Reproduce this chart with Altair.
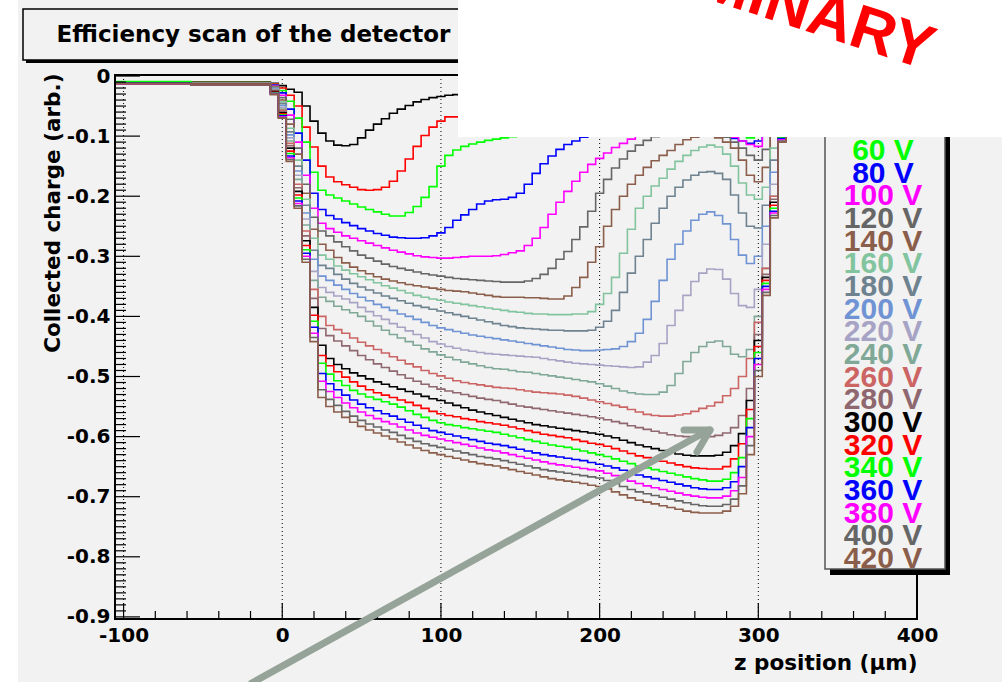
import altair as alt
import pandas as pd

# ---------------- data ----------------
# bin centres along z (µm)
Z_UM = [-105,
        -10, -5, 0, 5, 10, 15, 20, 25, 30,
        35, 40, 45, 50, 55, 60, 65, 70, 75, 80,
        85, 90, 95, 100, 105, 110, 115, 120, 125, 130,
        135, 140, 145, 150, 155, 160, 165, 170, 175, 180,
        185, 190, 195, 200, 205, 210, 215, 220, 225, 230,
        235, 240, 245, 250, 255, 260, 265, 270, 275, 280,
        285, 290, 295, 300, 305, 310, 315, 320, 325, 330,
        400]

Q20 = [-0.011,
       -0.010, -0.012, -0.016, -0.022, -0.027, -0.050, -0.075, -0.095, -0.108,
       -0.115, -0.116, -0.114, -0.103, -0.090, -0.080, -0.071, -0.062, -0.055, -0.049,
       -0.043, -0.039, -0.036, -0.034, -0.032, -0.031, -0.030, -0.029, -0.029, -0.028,
       -0.028, -0.027, -0.027, -0.026, -0.026, -0.025, -0.025, -0.025, -0.024, -0.024,
       -0.024, -0.024, -0.023, -0.023, -0.023, -0.023, -0.023, -0.023, -0.023, -0.024,
       -0.024, -0.025, -0.025, -0.026, -0.027, -0.028, -0.029, -0.031, -0.033, -0.036,
       -0.040, -0.045, -0.050, -0.052, -0.040, -0.022, -0.014, -0.012, -0.012, -0.011,
       -0.011]
Q40 = [-0.012,
       -0.011, -0.013, -0.020, -0.032, -0.050, -0.085, -0.118, -0.150, -0.168,
       -0.176, -0.181, -0.185, -0.189, -0.190, -0.189, -0.185, -0.175, -0.158, -0.138,
       -0.117, -0.099, -0.085, -0.075, -0.068, -0.068, -0.066, -0.064, -0.062, -0.060,
       -0.058, -0.057, -0.056, -0.055, -0.054, -0.053, -0.052, -0.051, -0.050, -0.050,
       -0.049, -0.049, -0.048, -0.048, -0.048, -0.048, -0.048, -0.048, -0.049, -0.050,
       -0.051, -0.052, -0.054, -0.056, -0.058, -0.060, -0.062, -0.065, -0.068, -0.072,
       -0.078, -0.085, -0.092, -0.090, -0.060, -0.028, -0.015, -0.012, -0.012, -0.011,
       -0.011]
Q60 = [-0.010,
       -0.011, -0.014, -0.024, -0.042, -0.070, -0.110, -0.160, -0.190, -0.198,
       -0.203, -0.208, -0.213, -0.218, -0.222, -0.226, -0.230, -0.233, -0.233, -0.227,
       -0.217, -0.202, -0.184, -0.150, -0.132, -0.123, -0.117, -0.113, -0.110, -0.107,
       -0.105, -0.103, -0.101, -0.099, -0.096, -0.093, -0.090, -0.087, -0.084, -0.081,
       -0.079, -0.077, -0.075, -0.073, -0.071, -0.070, -0.069, -0.068, -0.068, -0.068,
       -0.069, -0.070, -0.071, -0.072, -0.074, -0.076, -0.078, -0.081, -0.084, -0.088,
       -0.093, -0.098, -0.103, -0.100, -0.068, -0.030, -0.016, -0.012, -0.012, -0.011,
       -0.011]
Q80 = [-0.012,
       -0.012, -0.015, -0.028, -0.055, -0.095, -0.140, -0.195, -0.222, -0.232,
       -0.238, -0.244, -0.249, -0.254, -0.258, -0.262, -0.265, -0.268, -0.269, -0.270,
       -0.270, -0.269, -0.266, -0.261, -0.252, -0.240, -0.231, -0.222, -0.213, -0.208,
       -0.206, -0.205, -0.202, -0.195, -0.180, -0.162, -0.146, -0.133, -0.122, -0.114,
       -0.108, -0.102, -0.097, -0.093, -0.090, -0.087, -0.085, -0.083, -0.082, -0.081,
       -0.081, -0.081, -0.082, -0.083, -0.085, -0.087, -0.090, -0.093, -0.096, -0.100,
       -0.104, -0.108, -0.112, -0.108, -0.075, -0.033, -0.016, -0.012, -0.012, -0.011,
       -0.011]
Q100 = [-0.013,
        -0.012, -0.016, -0.032, -0.065, -0.110, -0.165, -0.220, -0.245, -0.254,
        -0.260, -0.266, -0.270, -0.274, -0.278, -0.282, -0.286, -0.290, -0.293, -0.296,
        -0.299, -0.301, -0.302, -0.303, -0.303, -0.302, -0.301, -0.300, -0.300, -0.300,
        -0.299, -0.297, -0.294, -0.291, -0.282, -0.270, -0.252, -0.230, -0.210, -0.192,
        -0.175, -0.160, -0.147, -0.137, -0.128, -0.119, -0.112, -0.105, -0.099, -0.095,
        -0.092, -0.090, -0.088, -0.087, -0.087, -0.088, -0.089, -0.091, -0.094, -0.097,
        -0.102, -0.108, -0.114, -0.117, -0.100, -0.045, -0.018, -0.013, -0.012, -0.011,
        -0.011]
Q120 = [-0.012,
        -0.012, -0.017, -0.036, -0.072, -0.120, -0.180, -0.235, -0.258, -0.266,
        -0.276, -0.284, -0.291, -0.298, -0.303, -0.308, -0.313, -0.317, -0.320, -0.323,
        -0.326, -0.329, -0.331, -0.333, -0.335, -0.337, -0.338, -0.339, -0.340, -0.341,
        -0.342, -0.343, -0.343, -0.343, -0.341, -0.337, -0.330, -0.320, -0.305, -0.292,
        -0.272, -0.251, -0.225, -0.195, -0.172, -0.153, -0.138, -0.125, -0.115, -0.107,
        -0.101, -0.097, -0.094, -0.092, -0.091, -0.091, -0.092, -0.094, -0.097, -0.102,
        -0.110, -0.120, -0.132, -0.140, -0.122, -0.070, -0.028, -0.015, -0.012, -0.011,
        -0.011]
Q140 = [-0.012,
        -0.012, -0.018, -0.040, -0.080, -0.130, -0.195, -0.255, -0.280, -0.290,
        -0.302, -0.311, -0.318, -0.324, -0.329, -0.334, -0.338, -0.341, -0.344, -0.347,
        -0.349, -0.351, -0.353, -0.355, -0.357, -0.358, -0.359, -0.361, -0.363, -0.365,
        -0.367, -0.368, -0.368, -0.368, -0.369, -0.369, -0.370, -0.371, -0.371, -0.366,
        -0.352, -0.335, -0.310, -0.284, -0.250, -0.222, -0.200, -0.180, -0.165, -0.152,
        -0.141, -0.132, -0.124, -0.114, -0.106, -0.102, -0.100, -0.100, -0.103, -0.110,
        -0.120, -0.140, -0.165, -0.176, -0.152, -0.095, -0.040, -0.018, -0.013, -0.012,
        -0.011]
Q160 = [-0.011,
        -0.012, -0.019, -0.043, -0.087, -0.140, -0.205, -0.270, -0.298, -0.305,
        -0.316, -0.323, -0.329, -0.334, -0.339, -0.344, -0.349, -0.353, -0.357, -0.361,
        -0.365, -0.368, -0.371, -0.373, -0.376, -0.378, -0.380, -0.382, -0.384, -0.386,
        -0.388, -0.390, -0.392, -0.393, -0.395, -0.396, -0.396, -0.397, -0.397, -0.397,
        -0.396, -0.396, -0.392, -0.380, -0.362, -0.335, -0.295, -0.255, -0.220, -0.200,
        -0.183, -0.170, -0.155, -0.142, -0.132, -0.124, -0.118, -0.115, -0.118, -0.130,
        -0.150, -0.178, -0.198, -0.205, -0.185, -0.120, -0.050, -0.020, -0.013, -0.012,
        -0.011]
Q180 = [-0.012,
        -0.013, -0.020, -0.046, -0.093, -0.150, -0.215, -0.290, -0.315, -0.320,
        -0.330, -0.338, -0.345, -0.351, -0.356, -0.361, -0.366, -0.370, -0.374, -0.378,
        -0.382, -0.385, -0.388, -0.391, -0.394, -0.397, -0.400, -0.403, -0.406, -0.409,
        -0.412, -0.415, -0.417, -0.419, -0.420, -0.421, -0.422, -0.423, -0.423, -0.424,
        -0.424, -0.424, -0.423, -0.418, -0.408, -0.390, -0.360, -0.328, -0.300, -0.272,
        -0.245, -0.220, -0.200, -0.185, -0.173, -0.165, -0.160, -0.159, -0.162, -0.172,
        -0.198, -0.228, -0.250, -0.253, -0.215, -0.140, -0.060, -0.022, -0.013, -0.012,
        -0.011]
Q200 = [-0.012,
        -0.013, -0.021, -0.049, -0.098, -0.158, -0.228, -0.305, -0.333, -0.340,
        -0.348, -0.355, -0.362, -0.368, -0.374, -0.380, -0.385, -0.390, -0.396, -0.400,
        -0.405, -0.410, -0.415, -0.419, -0.422, -0.425, -0.428, -0.431, -0.433, -0.435,
        -0.437, -0.439, -0.441, -0.443, -0.445, -0.447, -0.449, -0.451, -0.453, -0.455,
        -0.456, -0.457, -0.457, -0.456, -0.455, -0.454, -0.450, -0.442, -0.428, -0.405,
        -0.375, -0.340, -0.305, -0.280, -0.258, -0.240, -0.230, -0.226, -0.232, -0.246,
        -0.272, -0.298, -0.312, -0.300, -0.250, -0.160, -0.070, -0.024, -0.014, -0.012,
        -0.011]
Q220 = [-0.012,
        -0.013, -0.022, -0.052, -0.103, -0.165, -0.238, -0.325, -0.352, -0.360,
        -0.366, -0.371, -0.377, -0.385, -0.392, -0.399, -0.405, -0.412, -0.418, -0.424,
        -0.430, -0.436, -0.442, -0.446, -0.450, -0.453, -0.456, -0.458, -0.460, -0.462,
        -0.463, -0.464, -0.465, -0.466, -0.467, -0.468, -0.470, -0.472, -0.474, -0.476,
        -0.478, -0.479, -0.480, -0.481, -0.482, -0.483, -0.484, -0.485, -0.484, -0.476,
        -0.465, -0.445, -0.415, -0.390, -0.365, -0.342, -0.328, -0.321, -0.322, -0.338,
        -0.362, -0.382, -0.385, -0.355, -0.280, -0.180, -0.080, -0.027, -0.014, -0.012,
        -0.011]
Q240 = [-0.012,
        -0.013, -0.023, -0.055, -0.108, -0.172, -0.248, -0.340, -0.368, -0.375,
        -0.383, -0.389, -0.394, -0.400, -0.408, -0.416, -0.423, -0.430, -0.436, -0.442,
        -0.448, -0.454, -0.459, -0.464, -0.468, -0.472, -0.476, -0.479, -0.482, -0.485,
        -0.487, -0.488, -0.490, -0.492, -0.493, -0.495, -0.497, -0.499, -0.501, -0.503,
        -0.505, -0.507, -0.509, -0.512, -0.516, -0.520, -0.524, -0.527, -0.529, -0.530,
        -0.530, -0.526, -0.515, -0.495, -0.475, -0.460, -0.450, -0.443, -0.441, -0.450,
        -0.463, -0.467, -0.455, -0.400, -0.320, -0.200, -0.090, -0.030, -0.015, -0.012,
        -0.011]
Q260 = [-0.012,
        -0.014, -0.024, -0.057, -0.112, -0.180, -0.258, -0.355, -0.400, -0.415,
        -0.422, -0.428, -0.436, -0.443, -0.449, -0.455, -0.461, -0.467, -0.473, -0.479,
        -0.484, -0.490, -0.495, -0.499, -0.503, -0.507, -0.510, -0.512, -0.514, -0.516,
        -0.518, -0.519, -0.520, -0.522, -0.524, -0.526, -0.527, -0.528, -0.529, -0.531,
        -0.533, -0.536, -0.539, -0.542, -0.545, -0.548, -0.551, -0.555, -0.559, -0.563,
        -0.565, -0.566, -0.566, -0.564, -0.562, -0.558, -0.553, -0.549, -0.543, -0.532,
        -0.520, -0.500, -0.470, -0.410, -0.320, -0.200, -0.092, -0.031, -0.015, -0.012,
        -0.011]
Q280 = [-0.012,
        -0.014, -0.025, -0.059, -0.116, -0.186, -0.266, -0.370, -0.420, -0.432,
        -0.441, -0.449, -0.457, -0.465, -0.472, -0.479, -0.485, -0.491, -0.497, -0.503,
        -0.508, -0.513, -0.517, -0.521, -0.524, -0.527, -0.530, -0.533, -0.536, -0.538,
        -0.540, -0.543, -0.546, -0.549, -0.551, -0.553, -0.555, -0.557, -0.559, -0.561,
        -0.563, -0.565, -0.567, -0.569, -0.572, -0.575, -0.578, -0.582, -0.585, -0.588,
        -0.591, -0.594, -0.597, -0.599, -0.600, -0.601, -0.601, -0.600, -0.598, -0.594,
        -0.585, -0.565, -0.520, -0.430, -0.330, -0.205, -0.095, -0.032, -0.015, -0.012,
        -0.011]
Q300 = [-0.012,
        -0.014, -0.026, -0.061, -0.120, -0.192, -0.274, -0.385, -0.448, -0.470,
        -0.480, -0.487, -0.494, -0.499, -0.504, -0.509, -0.513, -0.517, -0.521, -0.525,
        -0.529, -0.533, -0.537, -0.540, -0.544, -0.548, -0.552, -0.556, -0.559, -0.562,
        -0.565, -0.568, -0.571, -0.574, -0.577, -0.580, -0.582, -0.584, -0.586, -0.588,
        -0.590, -0.592, -0.594, -0.596, -0.599, -0.602, -0.606, -0.610, -0.614, -0.617,
        -0.620, -0.623, -0.626, -0.629, -0.631, -0.632, -0.632, -0.632, -0.631, -0.626,
        -0.615, -0.595, -0.540, -0.440, -0.335, -0.210, -0.098, -0.033, -0.015, -0.012,
        -0.011]
Q320 = [-0.012,
        -0.014, -0.027, -0.063, -0.125, -0.198, -0.282, -0.398, -0.465, -0.482,
        -0.492, -0.501, -0.509, -0.516, -0.522, -0.527, -0.531, -0.535, -0.539, -0.543,
        -0.548, -0.553, -0.558, -0.562, -0.565, -0.567, -0.570, -0.572, -0.575, -0.577,
        -0.579, -0.581, -0.584, -0.587, -0.590, -0.593, -0.596, -0.598, -0.600, -0.602,
        -0.605, -0.608, -0.611, -0.613, -0.616, -0.620, -0.624, -0.628, -0.632, -0.635,
        -0.638, -0.641, -0.644, -0.647, -0.650, -0.652, -0.653, -0.654, -0.654, -0.650,
        -0.637, -0.612, -0.555, -0.450, -0.340, -0.215, -0.100, -0.034, -0.015, -0.012,
        -0.011]
Q340 = [-0.009,
        -0.015, -0.028, -0.065, -0.129, -0.203, -0.289, -0.408, -0.478, -0.496,
        -0.507, -0.515, -0.523, -0.529, -0.534, -0.538, -0.542, -0.546, -0.551, -0.557,
        -0.563, -0.568, -0.573, -0.577, -0.580, -0.582, -0.585, -0.587, -0.589, -0.591,
        -0.593, -0.596, -0.599, -0.602, -0.605, -0.608, -0.611, -0.614, -0.616, -0.618,
        -0.621, -0.624, -0.627, -0.630, -0.633, -0.637, -0.641, -0.645, -0.649, -0.652,
        -0.655, -0.658, -0.661, -0.664, -0.667, -0.670, -0.672, -0.674, -0.674, -0.671,
        -0.660, -0.635, -0.570, -0.460, -0.345, -0.220, -0.102, -0.035, -0.016, -0.012,
        -0.011]
Q360 = [-0.012,
        -0.015, -0.029, -0.066, -0.133, -0.208, -0.295, -0.418, -0.495, -0.512,
        -0.522, -0.531, -0.539, -0.546, -0.552, -0.557, -0.562, -0.566, -0.571, -0.576,
        -0.581, -0.586, -0.590, -0.593, -0.596, -0.599, -0.602, -0.605, -0.608, -0.611,
        -0.613, -0.615, -0.618, -0.621, -0.624, -0.627, -0.630, -0.632, -0.634, -0.636,
        -0.638, -0.640, -0.643, -0.646, -0.649, -0.652, -0.656, -0.660, -0.664, -0.667,
        -0.670, -0.673, -0.676, -0.679, -0.682, -0.685, -0.687, -0.688, -0.688, -0.685,
        -0.675, -0.650, -0.585, -0.470, -0.350, -0.225, -0.104, -0.036, -0.016, -0.012,
        -0.011]
Q380 = [-0.013,
        -0.015, -0.029, -0.068, -0.136, -0.212, -0.300, -0.428, -0.508, -0.525,
        -0.535, -0.544, -0.552, -0.559, -0.565, -0.570, -0.575, -0.579, -0.584, -0.589,
        -0.594, -0.598, -0.601, -0.604, -0.607, -0.610, -0.613, -0.616, -0.619, -0.622,
        -0.624, -0.627, -0.630, -0.633, -0.636, -0.639, -0.642, -0.645, -0.647, -0.649,
        -0.651, -0.653, -0.655, -0.657, -0.661, -0.665, -0.669, -0.674, -0.678, -0.682,
        -0.685, -0.688, -0.691, -0.694, -0.697, -0.699, -0.701, -0.702, -0.702, -0.699,
        -0.690, -0.668, -0.600, -0.480, -0.355, -0.228, -0.106, -0.037, -0.016, -0.012,
        -0.011]
Q400 = [-0.012,
        -0.015, -0.030, -0.069, -0.139, -0.216, -0.305, -0.435, -0.522, -0.538,
        -0.548, -0.558, -0.566, -0.573, -0.579, -0.584, -0.589, -0.593, -0.598, -0.603,
        -0.608, -0.612, -0.615, -0.618, -0.621, -0.624, -0.627, -0.630, -0.633, -0.635,
        -0.637, -0.640, -0.643, -0.646, -0.649, -0.652, -0.655, -0.657, -0.659, -0.661,
        -0.663, -0.665, -0.667, -0.669, -0.673, -0.678, -0.683, -0.688, -0.692, -0.695,
        -0.698, -0.701, -0.704, -0.707, -0.710, -0.713, -0.715, -0.716, -0.716, -0.713,
        -0.704, -0.682, -0.615, -0.490, -0.360, -0.232, -0.108, -0.038, -0.017, -0.012,
        -0.011]
Q420 = [-0.013,
        -0.015, -0.031, -0.070, -0.142, -0.220, -0.310, -0.442, -0.535, -0.550,
        -0.559, -0.568, -0.576, -0.583, -0.589, -0.594, -0.599, -0.604, -0.609, -0.614,
        -0.619, -0.623, -0.627, -0.630, -0.633, -0.636, -0.639, -0.642, -0.645, -0.647,
        -0.649, -0.652, -0.655, -0.658, -0.661, -0.664, -0.667, -0.670, -0.672, -0.674,
        -0.676, -0.678, -0.681, -0.683, -0.687, -0.692, -0.697, -0.702, -0.706, -0.709,
        -0.712, -0.715, -0.718, -0.721, -0.724, -0.726, -0.727, -0.727, -0.727, -0.724,
        -0.716, -0.695, -0.630, -0.500, -0.365, -0.236, -0.110, -0.040, -0.017, -0.012,
        -0.011]

VOLTAGES = [20, 40, 60, 80, 100, 120, 140, 160, 180, 200, 220,
            240, 260, 280, 300, 320, 340, 360, 380, 400, 420]
SERIES = [Q20, Q40, Q60, Q80, Q100, Q120, Q140, Q160, Q180, Q200, Q220,
          Q240, Q260, Q280, Q300, Q320, Q340, Q360, Q380, Q400, Q420]
LABELS = [f"{v} V" for v in VOLTAGES]
COLORS = ["#000000", "#ff0000", "#00ff00", "#0000ff", "#ff00ff", "#666666", "#8b5e4b",
          "#82c49e", "#6e8290", "#6f93d3", "#a7a3c5", "#80a897", "#cc6464", "#8f676e",
          "#000000", "#ff0000", "#00ff00", "#0000ff", "#ff00ff", "#666666", "#8b5e4b"]

X_MAJOR = [-100, 0, 100, 200, 300, 400]
X_MINOR = [-80, -60, -40, -20, 20, 40, 60, 80, 120, 140, 160, 180,
           220, 240, 260, 280, 320, 340, 360, 380]
GRID_Z = [-100, 0, 100, 200, 300]
Y_MAJOR = [0, -0.1, -0.2, -0.3, -0.4, -0.5, -0.6, -0.7, -0.8, -0.9]
Y_MINOR = [round(-i / 100, 2) for i in range(1, 90) if i % 10]

TITLE = "Efficiency scan of the detector"
X_TITLE = "z position (µm)"
Y_TITLE = "Collected charge (arb.)"
STAMP = "PRELIMINARY"

# ---------------- layout (page pixels) ----------------
PX0, PY0 = 115, 75          # plot-area origin on the page
W, H = 802, 544             # plot-area size
BG = "#f2f2f2"


def px(x):
    return x - PX0


def py(y):
    return y - PY0


ONE = alt.Data(values=[{"k": 0}])


def rect(x1, y1, x2, y2, **kw):
    return alt.Chart(ONE).mark_rect(**kw).encode(
        x=alt.value(px(x1)), x2=alt.value(px(x2)),
        y=alt.value(py(y1)), y2=alt.value(py(y2)))


def seg(x1, y1, x2, y2, **kw):
    return alt.Chart(ONE).mark_rule(**kw).encode(
        x=alt.value(px(x1)), x2=alt.value(px(x2)),
        y=alt.value(py(y1)), y2=alt.value(py(y2)))


def label(txt, x, y, **kw):
    return alt.Chart(ONE).mark_text(text=txt, **kw).encode(
        x=alt.value(px(x)), y=alt.value(py(y)))


rows = []
for lab, vals in zip(LABELS, SERIES):
    for z, q in zip(Z_UM, vals):
        rows.append({"z": z, "q": q, "volt": lab})
curves_df = pd.DataFrame(rows)

xscale = alt.Scale(domain=[-105.4, 400], nice=False, zero=False)
yscale = alt.Scale(domain=[-0.9035, 0.0017], nice=False, zero=False)

x_axis = alt.Axis(values=X_MAJOR, ticks=False, tickSize=0, domain=False, grid=False,
                  labelExpr="datum.value < 0 ? '-' + format(-datum.value, 'd') : format(datum.value, 'd')",
                  labelFont="DejaVu Sans", labelFontWeight="bold", labelFontSize=20,
                  labelColor="black", labelPadding=6, labelFlush=False, labelOverlap=False,
                  title=X_TITLE, titleFont="DejaVu Sans", titleFontWeight="bold",
                  titleFontSize=21.5, titleColor="black", titleX=W, titleY=50,
                  titleAlign="right", titleBaseline="alphabetic", titleAngle=0)
y_axis = alt.Axis(values=Y_MAJOR, ticks=False, tickSize=0, domain=False, grid=False,
                  labelExpr="datum.value == 0 ? '0' : '-' + format(-datum.value, '.1f')",
                  labelFont="DejaVu Sans", labelFontWeight="bold", labelFontSize=20,
                  labelColor="black", labelPadding=5, labelFlush=False, labelOverlap=False,
                  title=Y_TITLE, titleFont="DejaVu Sans", titleFontWeight="bold",
                  titleFontSize=21.5, titleColor="black", titleX=-56, titleY=-2,
                  titleAlign="right", titleBaseline="alphabetic", titleAngle=270)

layers = []
# white strip on the far left
layers.append(rect(-5, -5, 18, 700, color="white"))

# vertical dotted grid
grid = alt.Chart(pd.DataFrame({"z": GRID_Z})).mark_rule(
    color="black", strokeWidth=1, strokeDash=[1, 3]).encode(
    x=alt.X("z:Q", scale=xscale), y=alt.value(0), y2=alt.value(H))
layers.append(grid)

# the scan curves
curves = alt.Chart(curves_df).mark_line(interpolate="step", strokeWidth=1.6).encode(
    x=alt.X("z:Q", scale=xscale, axis=x_axis),
    y=alt.Y("q:Q", scale=yscale, axis=y_axis),
    color=alt.Color("volt:N", scale=alt.Scale(domain=LABELS, range=COLORS), legend=None),
)
layers.append(curves)

# inner ticks
layers.append(alt.Chart(pd.DataFrame({"q": Y_MAJOR})).mark_rule(color="black", strokeWidth=1.2).encode(
    y=alt.Y("q:Q", scale=yscale), x=alt.value(0), x2=alt.value(25)))
layers.append(alt.Chart(pd.DataFrame({"q": Y_MINOR})).mark_rule(color="black", strokeWidth=1.2).encode(
    y=alt.Y("q:Q", scale=yscale), x=alt.value(0), x2=alt.value(11)))
layers.append(alt.Chart(pd.DataFrame({"z": X_MAJOR})).mark_rule(color="black", strokeWidth=1.2).encode(
    x=alt.X("z:Q", scale=xscale), y=alt.value(H), y2=alt.value(H - 16)))
layers.append(alt.Chart(pd.DataFrame({"z": X_MINOR})).mark_rule(color="black", strokeWidth=1.2).encode(
    x=alt.X("z:Q", scale=xscale), y=alt.value(H), y2=alt.value(H - 8)))

# frame
layers.append(rect(PX0, PY0, PX0 + W, PY0 + H, fillOpacity=0, stroke="black", strokeWidth=2))

# legend box with shadow
layers.append(rect(830, 93, 950, 575, color="black"))
layers.append(rect(825, 88, 945, 569, fill=BG, stroke="#555555", strokeWidth=1.5))
for k, (lab, col) in enumerate(zip(LABELS, COLORS)):
    layers.append(label(lab, 883, 114.7 + 22.67 * k, color=col, font="Liberation Sans",
                        fontWeight="bold", fontSize=30, align="center", baseline="alphabetic"))

# title box with shadow
layers.append(rect(26, 12, 490, 63, color="black"))
layers.append(rect(23, 9, 487, 60, fill=BG, stroke="black", strokeWidth=1.5))
layers.append(label(TITLE, 253.5, 42, color="black", font="DejaVu Sans", fontWeight="bold",
                    fontSize=23, align="center", baseline="alphabetic"))

# white patch covering the top-right corner
layers.append(rect(458, -10, 1010, 137, color="white"))

# red stamp
layers.append(label(STAMP, 926, 70, color="#ff0000", font="Liberation Sans", fontWeight="bold",
                    fontSize=62, align="right", baseline="alphabetic", angle=18))

# grey arrow
ARROW = "#95a398"
layers.append(seg(250, 684, 707, 431, color=ARROW, strokeWidth=7))
layers.append(seg(710, 430, 684, 430, color=ARROW, strokeWidth=7, strokeCap="round"))
layers.append(seg(710, 430, 697, 452, color=ARROW, strokeWidth=7, strokeCap="round"))

chart = alt.layer(*layers).properties(
    width=W, height=H,
    background=BG,
    autosize=alt.AutoSizeParams(type="none"),
    padding={"left": PX0, "top": PY0, "right": 1002 - PX0 - W, "bottom": 682 - PY0 - H},
).configure_view(strokeWidth=0)

chart.save("out.html", embed_options={"renderer": "svg", "actions": False})
